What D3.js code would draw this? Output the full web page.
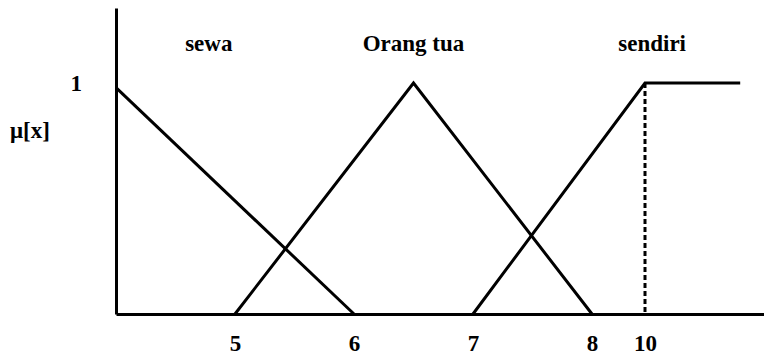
<!DOCTYPE html>
<html>
<head>
<meta charset="utf-8">
<script src="https://cdn.jsdelivr.net/npm/d3@7/dist/d3.min.js"></script>
<style>
  html, body { margin: 0; padding: 0; background: #fff; }
  svg { display: block; }
  svg text.lbl { font-family: "Liberation Serif" !important; font-weight: bold; fill: #000; }
</style>
</head>
<body>
<svg id="chart" width="764" height="356"></svg>
<script>
// Fuzzy membership functions for "tempat tinggal"
const setNames = ["sewa", "Orang tua", "sendiri"];
const sewaPts = [[4, 0.98], [6, 0]];
const orangTuaPts = [[5, 0], [6.5, 1], [8, 0]];
const sendiriPts = [[7, 0], [10, 1], [12, 1]];
const labelAt = [4.78, 6.5, 10.15];
const xTickValues = [5, 6, 7, 8, 10];
const yTickValues = [1];
const markerX = 10;

const W = 764, H = 356;
const plotLeft = 116, plotTop = 8, plotBottom = 314;
const labelFont = "Liberation Serif";
const labelSize = 23;

// broken x axis: 4..8 evenly spaced, 8..10 compressed, then tail to the edge
const x = d3.scaleLinear()
  .domain([4, 8, 10, 12.5])
  .range([plotLeft, plotLeft + 476, plotLeft + 529, W]);
const y = d3.scaleLinear().domain([0, 1.325]).range([plotBottom, plotTop]);

const svg = d3.select("#chart");

function styleText(sel) {
  sel.classed("lbl", true)
     .attr("font-family", labelFont)
     .attr("font-weight", "bold")
     .attr("font-size", labelSize)
     .style("font-family", `"${labelFont}"`)
     .style("font-size", labelSize + "px");
}

// axes
const xAxis = svg.append("g")
  .attr("transform", `translate(0,${plotBottom})`)
  .call(d3.axisBottom(x).tickValues(xTickValues).tickSize(0).tickSizeOuter(0).tickPadding(21).tickFormat(d3.format("d")));
const yAxis = svg.append("g")
  .attr("transform", `translate(${plotLeft},0)`)
  .call(d3.axisLeft(y).tickValues(yTickValues).tickSize(0).tickSizeOuter(0).tickPadding(34).tickFormat(d3.format("d")));

[xAxis, yAxis].forEach(g => {
  g.attr("font-family", labelFont).attr("font-size", labelSize);
  g.select(".domain").attr("stroke", "#000").attr("stroke-width", 3);
  g.selectAll("text").call(styleText);
});

// y axis title
svg.append("text")
  .attr("x", 10).attr("y", 138)
  .call(styleText)
  .text("μ[x]");

// membership lines
const line = d3.line().x(d => x(d[0])).y(d => y(d[1]));
const series = [sewaPts, orangTuaPts, sendiriPts];

svg.selectAll("path.mf")
  .data(series)
  .join("path")
  .attr("class", "mf")
  .attr("d", line)
  .attr("fill", "none")
  .attr("stroke", "#000")
  .attr("stroke-width", 3)
  .attr("stroke-linejoin", "miter");

// dashed marker at the top of "sendiri"
svg.append("line")
  .attr("x1", x(markerX)).attr("x2", x(markerX))
  .attr("y1", y(1)).attr("y2", y(0))
  .attr("stroke", "#000")
  .attr("stroke-width", 3)
  .attr("stroke-dasharray", "5,3");

// set names
svg.selectAll("text.setname")
  .data(setNames)
  .join("text")
  .attr("x", (d, i) => x(labelAt[i]))
  .attr("y", 51)
  .attr("text-anchor", "middle")
  .call(styleText)
  .classed("setname", true)
  .text(d => d);
</script>
</body>
</html>
